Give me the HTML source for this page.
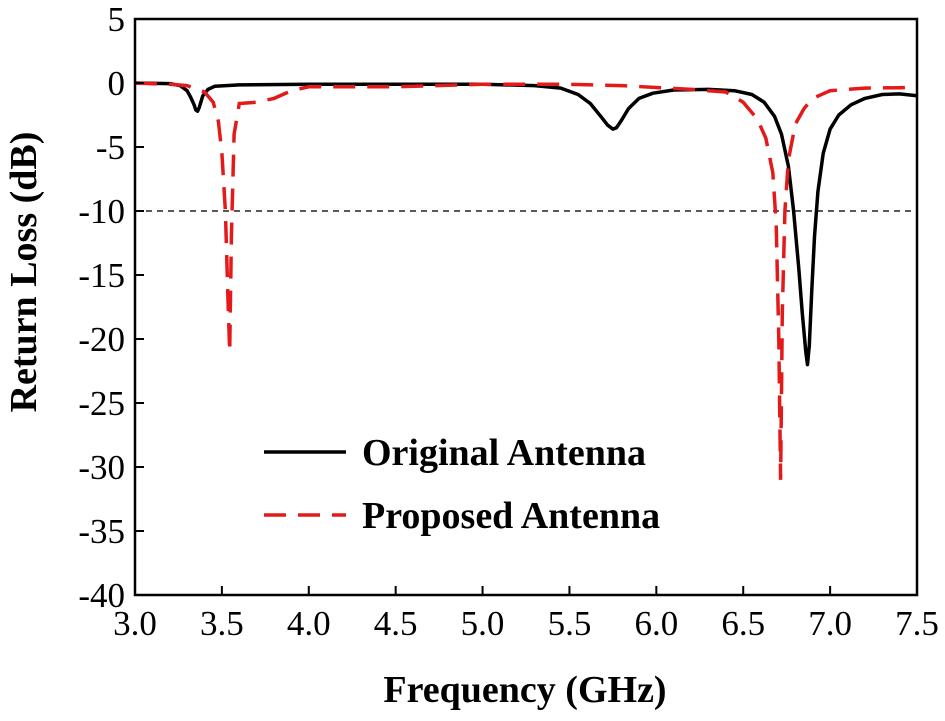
<!DOCTYPE html>
<html><head><meta charset="utf-8"><style>
body{margin:0;background:#fff}
svg{font-family:"Liberation Serif",serif}
</style></head><body>
<svg width="945" height="716">
<g id="plot"></g>
</svg>
<script>
const xTicks=[3.0,3.5,4.0,4.5,5.0,5.5,6.0,6.5,7.0,7.5];
const yTicks=[5,0,-5,-10,-15,-20,-25,-30,-35,-40];
const origX=[3.0,3.2,3.26,3.3,3.32,3.34,3.35,3.36,3.37,3.39,3.42,3.46,3.6,4.0,5.0,5.3,5.45,5.55,5.62,5.68,5.72,5.75,5.77,5.8,5.84,5.9,5.98,6.1,6.3,6.45,6.55,6.62,6.68,6.72,6.76,6.79,6.82,6.84,6.86,6.87,6.88,6.895,6.91,6.93,6.96,7.0,7.05,7.12,7.2,7.3,7.4,7.5];
const origY=[0,-0.05,-0.2,-0.6,-1.1,-1.7,-2.1,-2.2,-1.9,-1.0,-0.5,-0.25,-0.15,-0.1,-0.1,-0.2,-0.4,-0.9,-1.6,-2.6,-3.3,-3.6,-3.5,-2.9,-2.0,-1.2,-0.8,-0.55,-0.5,-0.6,-0.9,-1.5,-2.6,-4,-6.5,-10,-14.5,-18,-21,-22,-20.5,-16,-12,-8.5,-5.5,-3.6,-2.5,-1.7,-1.2,-0.9,-0.85,-1.0];
const propX=[3.0,3.2,3.3,3.4,3.45,3.48,3.5,3.52,3.535,3.545,3.555,3.57,3.6,3.7,3.8,3.9,4.0,4.5,5.0,5.5,5.8,6.0,6.2,6.4,6.5,6.58,6.63,6.67,6.69,6.705,6.715,6.725,6.74,6.76,6.8,6.85,6.9,7.0,7.2,7.5];
const propY=[0,-0.1,-0.2,-0.7,-1.5,-3,-5.5,-10,-17,-21,-12,-4,-1.6,-1.5,-1.2,-0.6,-0.3,-0.3,-0.1,-0.1,-0.2,-0.35,-0.5,-0.7,-1.5,-2.8,-4.3,-7,-11,-20,-31,-18,-10,-6,-3.2,-2,-1.2,-0.6,-0.4,-0.35];
const L=135,R=917,T=19,B=595;
const sx=v=>L+(v-3)/4.5*(R-L), sy=v=>T+(5-v)/45*(B-T);
const g=document.getElementById('plot');const NS='http://www.w3.org/2000/svg';
function mk(t,a,txt){const e=document.createElementNS(NS,t);for(const k in a)e.setAttribute(k,a[k]);if(txt!==undefined)e.textContent=txt;g.appendChild(e);return e;}
let e;
e=mk('line',{x1:L,x2:R,y1:sy(-10),y2:sy(-10),stroke:'#222','stroke-width':1.5,'stroke-dasharray':'6,5'});


const pts=(xs,ys)=>xs.map((x,i)=>sx(x).toFixed(1)+','+sy(ys[i]).toFixed(1)).join(' ');
e=mk('polyline',{points:pts(origX,origY),fill:'none',stroke:'#000','stroke-width':3.5,'stroke-linejoin':'round'});


e=mk('polyline',{points:pts(propX,propY),fill:'none',stroke:'#e41a1a','stroke-width':3.5,'stroke-dasharray':'22,12'});


e=mk('rect',{x:L,y:T,width:R-L,height:B-T,fill:'none',stroke:'#000','stroke-width':2.5});


xTicks.forEach(v=>{
 e=mk('line',{x1:sx(v),x2:sx(v),y1:B,y2:B-9,stroke:'#000','stroke-width':2});
 
 
 e=mk('text',{x:sx(v),y:B+40,'font-size':35,'text-anchor':'middle'},v.toFixed(1));
 
 
});
yTicks.forEach(v=>{
 e=mk('line',{x1:L,x2:L+9,y1:sy(v),y2:sy(v),stroke:'#000','stroke-width':2});
 
 
 e=mk('text',{x:L-10,y:sy(v)+12,'font-size':35,'text-anchor':'end'},String(v));
 
 
});
e=mk('text',{x:525,y:702,'font-size':38,'font-weight':'bold','text-anchor':'middle'},'Frequency (GHz)');


e=mk('text',{x:0,y:0,'font-size':38,'font-weight':'bold','text-anchor':'middle',transform:'translate(36,272) rotate(-90)'},'Return Loss (dB)');


e=mk('line',{x1:264,x2:346,y1:452,y2:452,stroke:'#000','stroke-width':3.5});


e=mk('text',{x:362,y:465,'font-size':38,'font-weight':'bold'},'Original Antenna');


e=mk('line',{x1:264,x2:346,y1:515,y2:515,stroke:'#e41a1a','stroke-width':3.5,'stroke-dasharray':'22,12'});


e=mk('text',{x:362,y:528,'font-size':38,'font-weight':'bold'},'Proposed Antenna');


</script>
</body></html>
